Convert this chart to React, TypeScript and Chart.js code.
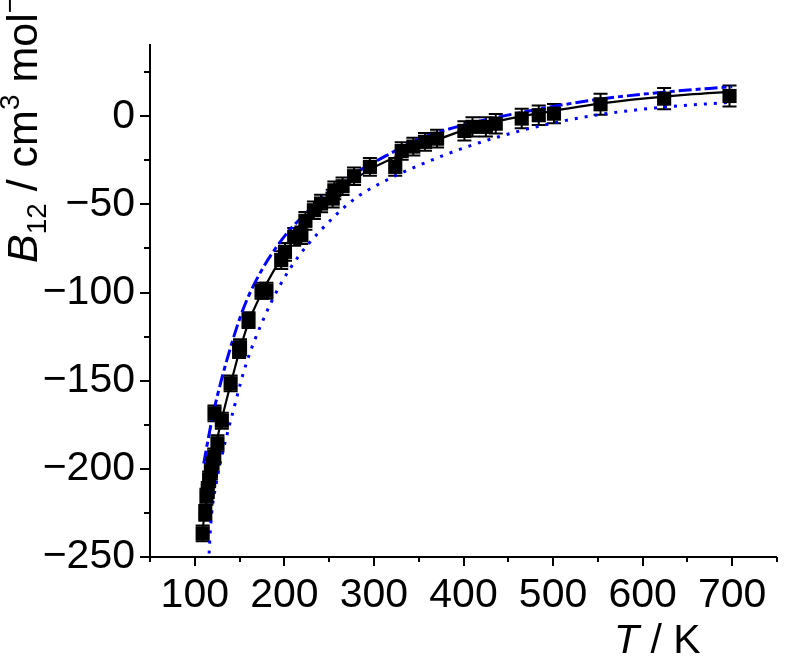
import React, { useEffect, useRef } from 'react';
import { Chart, registerables } from 'chart.js';

Chart.register(...registerables);

// Measured points
const temperatures = [108.8, 111.7, 113, 114.5, 116, 118, 119.8, 121.7, 122, 125.3, 130.2, 140, 149.5, 150.5, 160, 174.5, 180, 196.5, 200.7, 211, 219, 223.5, 233, 241, 254, 255.8, 265, 277.8, 295.5, 323.8, 331, 344, 357, 370.5, 401, 410, 425, 436, 465, 484, 501, 553, 624, 697];
const b12Values = [-236.6, -225, -215.8, -212, -206, -201.6, -197, -193, -168.5, -185.5, -172.7, -151.5, -132.6, -131, -115.6, -99, -99, -81.6, -76.9, -68.4, -67.5, -59.3, -53.3, -49.5, -46.7, -42, -39.7, -34, -28.7, -28.7, -19.7, -17.2, -14.5, -12.7, -8.3, -6, -6, -4.2, -1.3, 0.6, 1.5, 6.8, 10, 11.5];
const b12Errors = [4.5, 4.5, 4.5, 4.5, 4.5, 4.5, 4.5, 4.5, 4.5, 4.5, 4.5, 4.5, 4.5, 4.5, 4.5, 4.5, 4.5, 5, 5, 5, 5, 5, 5, 5, 5, 5, 5, 5, 5, 5, 5, 5, 5, 5, 5.5, 5.5, 5.5, 5.5, 5.5, 5.5, 5.5, 6, 6, 6];

// Black solid curve
const fitT = [108, 112, 116, 120, 125, 130, 140, 150, 160, 175, 190, 200, 215, 230, 250, 275, 300, 325, 350, 375, 400, 450, 500, 550, 600, 650, 700];
const fitB = [-237, -222, -207, -195, -183, -172, -152, -133, -117, -100, -86, -78, -67, -58, -48, -37, -29, -23, -17.5, -12.5, -8, -1.5, 3, 7, 10, 12.3, 14];

// Blue dash-dot curve
const dashT = [110, 115, 120, 130, 140, 150, 160, 175, 190, 205, 220, 240, 260, 280, 315, 350, 400, 473, 546, 620, 700];
const dashB = [-197, -183, -170, -149, -131, -115, -102, -87, -75, -65, -57, -47, -39, -32, -22, -13, -5, 3, 9.3, 13.5, 16.8];

// Blue dotted curve
const dotT = [116, 118, 124, 131, 144, 157, 175, 195, 215, 240, 278, 315, 345, 400, 473, 546, 620, 700];
const dotB = [-248, -230, -208, -191, -165, -141, -117, -96, -80, -65, -47, -36, -29, -18, -7, 0.5, 5, 8];

const xTickValues = [100, 200, 300, 400, 500, 600, 700];
const xMinorTicks = [50, 150, 250, 350, 450, 550, 650, 750];
const yTickValues = [-250, -200, -150, -100, -50, 0];
const yMinorTicks = [-225, -175, -125, -75, -25, 25];

const FONT = '"Liberation Sans", Arial, sans-serif';

type Seg = { t: string; italic?: boolean; sub?: boolean; sup?: boolean };

function drawRich(ctx: CanvasRenderingContext2D, segs: Seg[], size: number) {
  let cx = 0;
  for (const s of segs) {
    const small = s.sub || s.sup;
    const fs = small ? size * 0.65 : size;
    ctx.font = `${s.italic ? 'italic ' : ''}${fs}px ${FONT}`;
    const dy = s.sub ? size * 0.2 : s.sup ? -size * 0.42 : 0;
    ctx.fillText(s.t, cx, dy);
    cx += ctx.measureText(s.t).width;
  }
}

const customPlugin = {
  id: 'customAxes',
  beforeDatasetsDraw(chart: any) {
    const { ctx, scales } = chart;
    const x = scales.x, y = scales.y;
    ctx.save();
    ctx.strokeStyle = '#000';
    ctx.lineWidth = 2;
    for (let i = 0; i < temperatures.length; i++) {
      const px = x.getPixelForValue(temperatures[i]);
      const top = y.getPixelForValue(b12Values[i] + b12Errors[i]);
      const bot = y.getPixelForValue(b12Values[i] - b12Errors[i]);
      ctx.beginPath();
      ctx.moveTo(px, top); ctx.lineTo(px, bot);
      ctx.moveTo(px - 7, top); ctx.lineTo(px + 7, top);
      ctx.moveTo(px - 7, bot); ctx.lineTo(px + 7, bot);
      ctx.stroke();
    }
    ctx.restore();
  },
  afterDraw(chart: any) {
    const { ctx, chartArea: a, scales } = chart;
    const x = scales.x, y = scales.y;
    ctx.save();
    ctx.strokeStyle = '#000';
    ctx.lineWidth = 2;
    ctx.beginPath();
    ctx.moveTo(a.left, a.top);
    ctx.lineTo(a.left, a.bottom);
    ctx.lineTo(a.right, a.bottom);
    ctx.stroke();
    ctx.beginPath();
    for (const v of yTickValues) {
      const p = Math.round(y.getPixelForValue(v));
      ctx.moveTo(a.left - 10, p); ctx.lineTo(a.left, p);
    }
    for (const v of yMinorTicks) {
      const p = Math.round(y.getPixelForValue(v));
      ctx.moveTo(a.left - 6, p); ctx.lineTo(a.left, p);
    }
    for (const v of xTickValues) {
      const p = Math.round(x.getPixelForValue(v));
      ctx.moveTo(p, a.bottom); ctx.lineTo(p, a.bottom + 9);
    }
    for (const v of xMinorTicks) {
      const p = Math.round(x.getPixelForValue(v));
      ctx.moveTo(p, a.bottom); ctx.lineTo(p, a.bottom + 5);
    }
    ctx.stroke();

    ctx.fillStyle = '#000';
    ctx.textBaseline = 'alphabetic';
    ctx.textAlign = 'left';
    // x title
    ctx.save();
    ctx.translate(614, 653);
    drawRich(ctx, [{ t: 'T', italic: true }, { t: ' / K' }], 41);
    ctx.restore();
    // y title
    ctx.save();
    ctx.translate(37, 263);
    ctx.rotate(-Math.PI / 2);
    drawRich(ctx, [
      { t: 'B', italic: true },
      { t: '12', sub: true },
      { t: ' / cm' },
      { t: '3', sup: true },
      { t: ' mol' },
      { t: '\u22121', sup: true },
    ], 43);
    ctx.restore();
    ctx.restore();
  },
};

export default function App() {
  const ref = useRef<HTMLCanvasElement | null>(null);
  useEffect(() => {
    if (!ref.current) return;
    const chart = new Chart(ref.current, {
      type: 'scatter',
      data: {
        datasets: [
          {
            label: 'data',
            data: temperatures.map((t, i) => ({ x: t, y: b12Values[i] })),
            showLine: false,
            pointStyle: 'rect',
            pointRadius: 10,
            backgroundColor: '#000',
            borderWidth: 0,
          },
          {
            label: 'fit',
            data: fitT.map((t, i) => ({ x: t, y: fitB[i] })),
            showLine: true,
            pointRadius: 0,
            borderColor: '#000',
            borderWidth: 2.2,
            cubicInterpolationMode: 'monotone',
          },
          {
            label: 'dash',
            data: dashT.map((t, i) => ({ x: t, y: dashB[i] })),
            showLine: true,
            pointRadius: 0,
            borderColor: '#0000ff',
            borderWidth: 3,
            borderDash: [13, 4, 5, 4],
            cubicInterpolationMode: 'monotone',
          },
          {
            label: 'dot',
            data: dotT.map((t, i) => ({ x: t, y: dotB[i] })),
            showLine: true,
            pointRadius: 0,
            borderColor: '#0000ff',
            borderWidth: 3,
            borderDash: [3, 7],
            cubicInterpolationMode: 'monotone',
          },
        ],
      },
      options: {
        responsive: false,
        animation: false,
        devicePixelRatio: 1,
        layout: { padding: { top: 44, right: 1, bottom: 0, left: 0 } },
        plugins: { legend: { display: false }, tooltip: { enabled: false } },
        scales: {
          x: {
            type: 'linear',
            min: 50,
            max: 750,
            grid: { display: false, drawTicks: false },
            border: { display: false },
            afterFit: (s: any) => { s.height = 100; },
            afterBuildTicks: (s: any) => { s.ticks = xTickValues.map((v) => ({ value: v })); },
            ticks: {
              padding: 14,
              color: '#000',
              font: { family: FONT, size: 41 },
              maxRotation: 0,
              autoSkip: false,
              callback: (v: any) => String(v),
            },
          },
          y: {
            type: 'linear',
            min: -250,
            max: 41,
            grid: { display: false, drawTicks: false },
            border: { display: false },
            afterFit: (s: any) => { s.width = 150; },
            afterBuildTicks: (s: any) => { s.ticks = yTickValues.map((v) => ({ value: v })); },
            ticks: {
              padding: 15,
              color: '#000',
              font: { family: FONT, size: 41 },
              autoSkip: false,
              callback: (v: any) => (v < 0 ? '\u2212' + Math.abs(v) : String(v)),
            },
          },
        },
      },
      plugins: [customPlugin],
    });
    return () => chart.destroy();
  }, []);
  return (
    <div style={{ position: 'fixed', left: 0, top: 0, width: 787, height: 657, background: '#fff' }}>
      <canvas ref={ref} width={787} height={657} style={{ display: 'block' }} />
    </div>
  );
}
